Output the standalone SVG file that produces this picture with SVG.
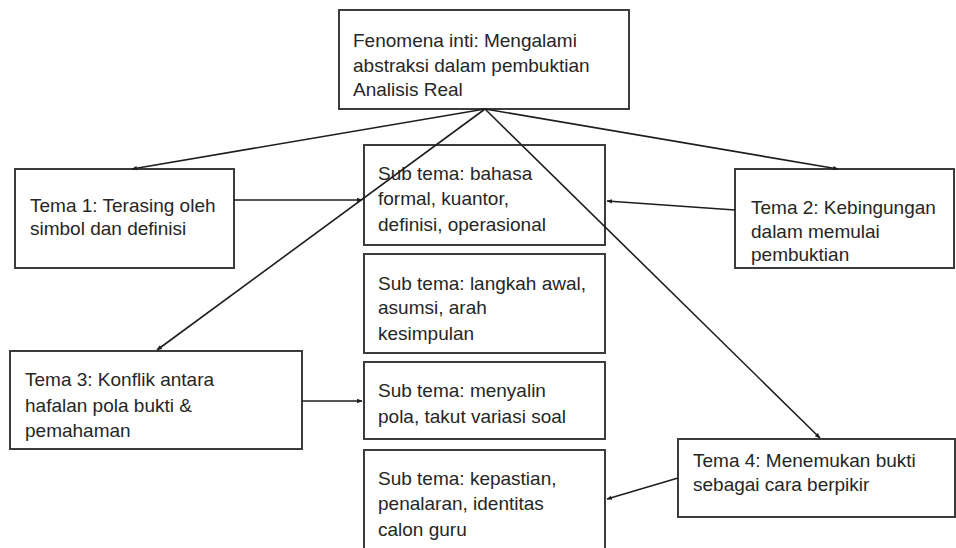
<svg xmlns="http://www.w3.org/2000/svg" width="956" height="548" viewBox="0 0 956 548">
<defs>
<style>
.box{fill:#fff;stroke:#3c3c3c;stroke-width:2}
.t{font-family:"Liberation Sans",Arial,sans-serif;font-size:19px;fill:#262626}
.c{fill:none;stroke:#1e1e1e;stroke-width:1.6}
</style>
<marker id="ah" viewBox="0 0 10 10" refX="9" refY="5" markerWidth="5.5" markerHeight="5.5" orient="auto" markerUnits="userSpaceOnUse">
<path d="M0,1 L10,5 L0,9 z" fill="#1e1e1e"/>
</marker>
</defs>
<rect width="956" height="548" fill="#fff"/>
<g id="fenomena">
<rect class="box" x="339" y="10" width="290" height="99"/>
<text class="t" x="353" y="47">Fenomena inti: Mengalami</text>
<text class="t" x="353" y="72">abstraksi dalam pembuktian</text>
<text class="t" x="353" y="96">Analisis Real</text>
</g>
<g id="tema1">
<rect class="box" x="15" y="169" width="219" height="99"/>
<text class="t" x="30" y="212">Tema 1: Terasing oleh</text>
<text class="t" x="30" y="235">simbol dan definisi</text>
</g>
<g id="tema2">
<rect class="box" x="735" y="169" width="219" height="99"/>
<text class="t" x="751" y="214">Tema 2: Kebingungan</text>
<text class="t" x="751" y="238">dalam memulai</text>
<text class="t" x="751" y="261">pembuktian</text>
</g>
<g id="tema3">
<rect class="box" x="10" y="351" width="292" height="98"/>
<text class="t" x="25" y="386">Tema 3: Konflik antara</text>
<text class="t" x="25" y="412">hafalan pola bukti &amp;</text>
<text class="t" x="25" y="437">pemahaman</text>
</g>
<g id="tema4">
<rect class="box" x="678" y="439" width="277" height="78"/>
<text class="t" x="693" y="467">Tema 4: Menemukan bukti</text>
<text class="t" x="693" y="491">sebagai cara berpikir</text>
</g>
<g id="subtema1">
<rect class="box" x="364" y="145" width="241" height="100"/>
<text class="t" x="378" y="180">Sub tema: bahasa</text>
<text class="t" x="378" y="205">formal, kuantor,</text>
<text class="t" x="378" y="231">definisi, operasional</text>
</g>
<g id="subtema2">
<rect class="box" x="364" y="254" width="241" height="99"/>
<text class="t" x="378" y="290">Sub tema: langkah awal,</text>
<text class="t" x="378" y="314">asumsi, arah</text>
<text class="t" x="378" y="340">kesimpulan</text>
</g>
<g id="subtema3">
<rect class="box" x="364" y="362" width="241" height="77"/>
<text class="t" x="378" y="397">Sub tema: menyalin</text>
<text class="t" x="378" y="423">pola, takut variasi soal</text>
</g>
<g id="subtema4">
<rect class="box" x="364" y="450" width="241" height="102"/>
<text class="t" x="378" y="485">Sub tema: kepastian,</text>
<text class="t" x="378" y="510">penalaran, identitas</text>
<text class="t" x="378" y="536">calon guru</text>
</g>
<g id="connectors">
<line class="c" x1="485" y1="109" x2="132" y2="169" marker-end="url(#ah)"/>
<line class="c" x1="485" y1="109" x2="838" y2="169" marker-end="url(#ah)"/>
<line class="c" x1="485" y1="109" x2="157" y2="350" marker-end="url(#ah)"/>
<line class="c" x1="485" y1="109" x2="820" y2="438" marker-end="url(#ah)"/>
<line class="c" x1="234" y1="200" x2="362" y2="200" marker-end="url(#ah)"/>
<line class="c" x1="735" y1="210" x2="607" y2="201" marker-end="url(#ah)"/>
<line class="c" x1="302" y1="401" x2="362" y2="401" marker-end="url(#ah)"/>
<line class="c" x1="678" y1="478" x2="607" y2="499" marker-end="url(#ah)"/>
</g>
</svg>
